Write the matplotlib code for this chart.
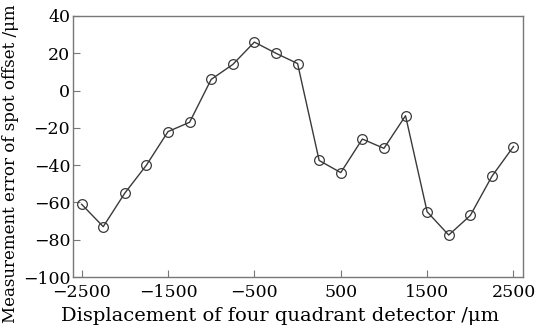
import matplotlib
matplotlib.use("Agg")
import matplotlib.pyplot as plt

x_vals = [-2500, -2250, -2000, -1750, -1500, -1250, -1000, -750, -500, -250, 0,
          250, 500, 750, 1000, 1250, 1500, 1750, 2000, 2250, 2500]
errors = [-61, -73, -55, -40, -22, -17, 6, 14, 26, 20, 14.5,
          -37.5, -44, -26, -31, -13.5, -65, -77.5, -67, -46, -30]
xticks = [-2500, -1500, -500, 500, 1500, 2500]
yticks = [-100, -80, -60, -40, -20, 0, 20, 40]

plt.rcParams['font.family'] = ['DejaVu Serif']
plt.rcParams['mathtext.fontset'] = 'dejavuserif'

fig = plt.figure(figsize=(5.36, 3.28), dpi=100)
ax = fig.add_axes([73/536, 1 - 277/328, 450/536, 261/328])
ax.plot(x_vals, errors, color='#3a3a3a', lw=1.0, marker='o', ms=7,
        mfc='none', mec='#3a3a3a', mew=0.9)
ax.set_xlim(-2600, 2610)
ax.set_ylim(-100, 40)
ax.set_xticks(xticks)
ax.set_yticks(yticks)
ax.set_xticklabels([str(v).replace('-', '\u2212') for v in xticks])
ax.set_yticklabels([str(v).replace('-', '\u2212') for v in yticks])
ax.tick_params(direction='in', length=5, width=0.8, color='#777777',
               labelsize=12.5, top=False, right=False)
ax.tick_params(axis='x', pad=5)
ax.tick_params(axis='y', pad=2)
for s in ax.spines.values():
    s.set_color('#777777')
    s.set_linewidth(1.0)
fig.text(280/536, 1 - 321/328, 'Displacement of four quadrant detector /\u03bcm',
         ha='center', va='baseline', fontsize=14)
fig.text(11/536, 1 - 164/328, 'Measurement error of spot offset /\u03bcm',
         rotation=90, ha='center', va='center', fontsize=12)
fig.savefig('out.png', dpi=100)
